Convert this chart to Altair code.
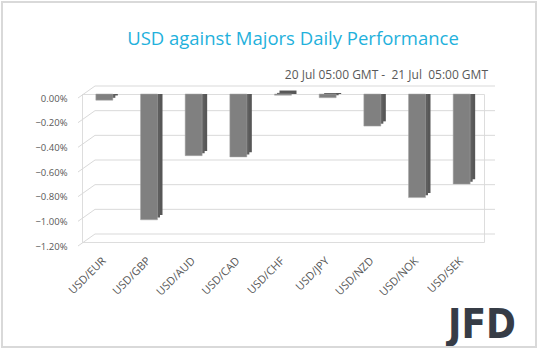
import altair as alt
import pandas as pd

pairs = ["USD/EUR", "USD/GBP", "USD/AUD", "USD/CAD", "USD/CHF", "USD/JPY", "USD/NZD", "USD/NOK", "USD/SEK"]
values = [-0.05, -1.02, -0.50, -0.51, -0.01, -0.03, -0.26, -0.84, -0.73]
ticks = [0.0, -0.2, -0.4, -0.6, -0.8, -1.0, -1.2]
title_text = "USD against Majors Daily Performance"
subtitle_text = "20 Jul 05:00 GMT -\u00a0 21 Jul\u00a0 05:00 GMT"

W, H = 402, 148
PX = H / 1.2  # pixels per percentage point

df = pd.DataFrame({"pair": pairs, "value": values})

# gridline polylines (front-left diagonal + back-plane horizontal), built from the tick values
gx = [-4, 13, 413]
gdy = [4, -8, -8]
grid_rows = []
for t in ticks:
    for i in range(3):
        grid_rows.append({"t": t, "gx": gx[i], "gy": t - gdy[i] / PX, "o": i})
gdf = pd.DataFrame(grid_rows)

FONT = "Open Sans"
yscale = alt.Scale(domain=[-1.2, 0], nice=False, zero=False)
xscale = alt.Scale(paddingInner=0.6, paddingOuter=0.3)

yaxis = alt.Axis(values=ticks, labelExpr="format(datum.value, '.2f') + '%'",
                 labelFontSize=9.5, labelColor="#595959", labelFont=FONT, labelOverlap=False,
                 ticks=False, domain=False, grid=False, labelPadding=15, labelOffset=4)

grid = alt.Chart(gdf).mark_line(color="#d9d9d9", strokeWidth=1).encode(
    x=alt.X("gx:Q", scale=alt.Scale(domain=[0, W], nice=False, zero=False), axis=None),
    y=alt.Y("gy:Q", scale=yscale, axis=yaxis, title=None),
    detail="t:N",
    order="o:Q",
)

xenc = alt.X("pair:N", sort=pairs, scale=xscale, title=None,
             axis=alt.Axis(labelAngle=-45, labelFontSize=11, labelColor="#595959", labelFont=FONT,
                           ticks=False, domain=False, labelPadding=17, labelAlign="right",
                           labelBaseline="middle", labelOverlap=False))
yenc = alt.Y("value:Q", scale=yscale, axis=yaxis, title=None)

base = alt.Chart(df)
back1 = base.mark_bar(size=17, color="#575757", xOffset=5, yOffset=-4.7).encode(x=xenc, y=yenc, y2=alt.datum(0))
back2 = base.mark_bar(size=17, color="#5e5e5e", xOffset=2.5, yOffset=-2.35).encode(x=xenc, y=yenc, y2=alt.datum(0))
front = base.mark_bar(size=17, color="#808080", stroke="#a6a6a6", strokeWidth=0.5).encode(x=xenc, y=yenc, y2=alt.datum(0))
bars = alt.layer(back1, back2, front)

title = alt.Chart(pd.DataFrame({"s": [title_text]})).mark_text(
    font=FONT, fontSize=18.5, color="#1fb1dc", align="center", baseline="alphabetic"
).encode(text="s:N", x=alt.value(211), y=alt.value(-49))
subtitle = alt.Chart(pd.DataFrame({"s": [subtitle_text]})).mark_text(
    font=FONT, fontSize=12, color="#595959", align="right", baseline="alphabetic"
).encode(text="s:N", x=alt.value(406), y=alt.value(-15.5))
logo = alt.Chart(pd.DataFrame({"s": ["JFD"]})).mark_text(
    font="DejaVu Sans Condensed, Roboto Condensed, Roboto", fontWeight="bold", fontSize=40, color="#363c46",
    align="center", baseline="alphabetic"
).encode(text="s:N", x=alt.value(400), y=alt.value(244))
border = alt.Chart(pd.DataFrame({"a": [0]})).mark_rect(
    fill=None, stroke="#d9d9d9", strokeWidth=2
).encode(x=alt.value(-80), x2=alt.value(454), y=alt.value(-92), y2=alt.value(253))

chart = alt.layer(grid, bars, title, subtitle, logo, border).resolve_scale(
    x="independent"
).properties(
    width=W, height=H,
    autosize=alt.AutoSizeParams(type="none"),
    padding={"left": 82, "top": 94, "right": 54, "bottom": 109},
).configure_view(stroke=None).configure_axis(domain=False, ticks=False).configure(background="white")

chart.save("out.html", embed_options={"renderer": "svg", "actions": False})
